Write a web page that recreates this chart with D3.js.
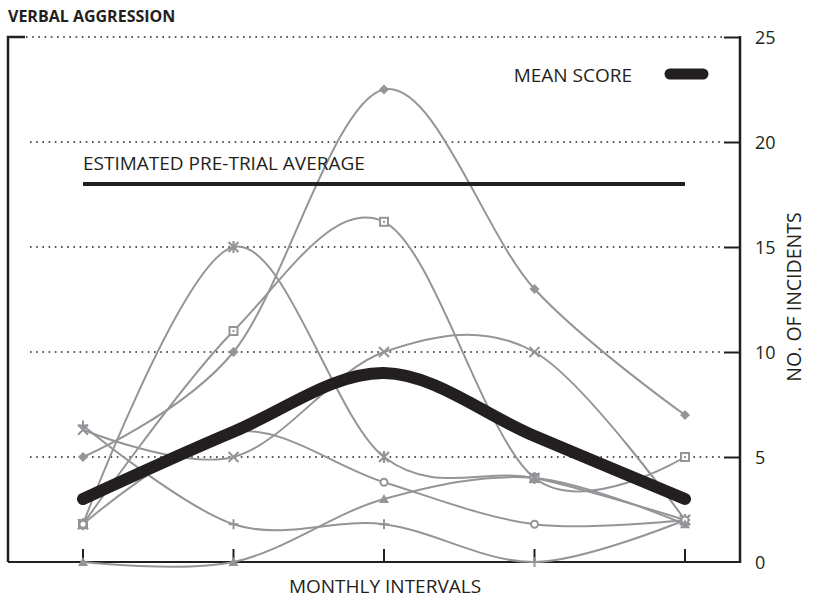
<!DOCTYPE html>
<html>
<head>
<meta charset="utf-8">
<script src="https://cdn.jsdelivr.net/npm/d3@7"></script>
<style>
  body { margin: 0; background: #fff; }
  svg text { font-family: "Open Sans", "DejaVu Sans", sans-serif; fill: #231f20; }
</style>
</head>
<body>
<svg id="chart" width="825" height="600"></svg>
<script>
// monthly intervals (unlabelled on the chart)
var months = ["M1", "M2", "M3", "M4", "M5"];

// one row per patient
var diamondSeries  = [5, 10, 22.5, 13, 7];
var squareSeries   = [1.8, 11, 16.2, 4, 5];
var asteriskSeries = [1.8, 15, 5, 4, 2];
var crossSeries    = [6.3, 5, 10, 10, 2];
var plusSeries     = [6.5, 1.8, 1.8, 0, 2];
var circleSeries   = [1.8, 6.2, 3.8, 1.8, 2];
var triangleSeries = [0, 0, 3, 4, 1.8];

var meanScore = [3, 6.2, 9, 6, 3];
var preTrialAverage = 18;
var yTicks = [0, 5, 10, 15, 20, 25];

var series = [
  { values: diamondSeries, marker: "diamond" },
  { values: squareSeries, marker: "square" },
  { values: asteriskSeries, marker: "asterisk" },
  { values: crossSeries, marker: "cross" },
  { values: plusSeries, marker: "plus" },
  { values: circleSeries, marker: "circle" },
  { values: triangleSeries, marker: "triangle" }
];

var gray = "#939598";
var ink = "#231f20";

var svg = d3.select("#chart");

var x = d3.scalePoint().domain(months).range([83, 685]);
var y = d3.scaleLinear().domain([0, 25]).range([562, 37]);

var left = 8, right = 740;

// title
svg.append("text")
  .attr("x", 8).attr("y", 22)
  .style("font-size", "16px").style("font-weight", "bold")
  .text("VERBAL AGGRESSION");

// dotted gridlines
var grid = svg.append("g");
grid.selectAll("line")
  .data(yTicks.filter(function(d) { return d > 0; }))
  .enter().append("line")
  .attr("x1", function(d) { return d === 25 ? 26 : 30; })
  .attr("x2", right - 16)
  .attr("y1", function(d) { return y(d); })
  .attr("y2", function(d) { return y(d); })
  .attr("stroke", ink)
  .attr("stroke-width", 1.6)
  .attr("stroke-dasharray", "1.6,4.6");

// right axis with solid ticks
var yAxis = d3.axisRight(y).tickValues(yTicks).tickSize(0).tickPadding(15);
var axisG = svg.append("g")
  .attr("transform", "translate(" + right + ",0)")
  .call(yAxis);
axisG.select(".domain").remove();
axisG.selectAll(".tick text")
  .style("font-size", "18px")
  .style("font-family", '"Open Sans", sans-serif')
  .attr("fill", ink)
  .attr("dy", "0.35em");
axisG.selectAll(".tick").filter(function(d) { return d > 0; })
  .append("line")
  .attr("x1", -16).attr("x2", 0)
  .attr("stroke", ink).attr("stroke-width", 2);

svg.append("line")
  .attr("x1", right).attr("x2", right)
  .attr("y1", y(25) - 1).attr("y2", y(0) + 1)
  .attr("stroke", ink).attr("stroke-width", 2.5);

// left frame
svg.append("path")
  .attr("d", "M" + (left + 17) + "," + y(25) + "H" + left + "V" + y(0))
  .attr("fill", "none").attr("stroke", ink).attr("stroke-width", 2.5);

// bottom axis
svg.append("line")
  .attr("x1", left).attr("x2", right)
  .attr("y1", y(0)).attr("y2", y(0))
  .attr("stroke", ink).attr("stroke-width", 2);
svg.append("g").selectAll("line")
  .data(months).enter().append("line")
  .attr("x1", function(d) { return x(d); })
  .attr("x2", function(d) { return x(d); })
  .attr("y1", y(0)).attr("y2", y(0) - 13)
  .attr("stroke", ink).attr("stroke-width", 2);

// axis titles
svg.append("text")
  .attr("x", 385).attr("y", 593)
  .attr("text-anchor", "middle")
  .style("font-size", "19px")
  .text("MONTHLY INTERVALS");
svg.append("text")
  .attr("transform", "translate(801,297) rotate(-90)")
  .attr("text-anchor", "middle")
  .style("font-size", "19.5px")
  .text("NO. OF INCIDENTS");

// patient lines
var line = d3.line()
  .x(function(d, i) { return x(months[i]); })
  .y(function(d) { return y(d); })
  .curve(d3.curveCardinal.tension(0));

var lines = svg.append("g");
lines.selectAll("path")
  .data(series).enter().append("path")
  .attr("d", function(s) { return line(s.values); })
  .attr("fill", "none")
  .attr("stroke", gray)
  .attr("stroke-width", 2);

function drawMarker(g, type) {
  if (type === "diamond") {
    g.append("path").attr("d", "M0,-5L5,0L0,5L-5,0Z").attr("fill", gray);
  } else if (type === "square") {
    g.append("rect").attr("x", -4).attr("y", -4).attr("width", 8).attr("height", 8)
      .attr("fill", "#fff").attr("stroke", gray).attr("stroke-width", 2);
    g.append("rect").attr("x", -1).attr("y", -1).attr("width", 2).attr("height", 2).attr("fill", gray);
  } else if (type === "asterisk") {
    g.append("path").attr("d", "M-5,-5L5,5M-5,5L5,-5M0,-6V6")
      .attr("stroke", gray).attr("stroke-width", 2.2);
  } else if (type === "cross") {
    g.append("path").attr("d", "M-5,-5L5,5M-5,5L5,-5")
      .attr("stroke", gray).attr("stroke-width", 2);
  } else if (type === "plus") {
    g.append("path").attr("d", "M-5,0H5M0,-5V5")
      .attr("stroke", gray).attr("stroke-width", 2);
  } else if (type === "circle") {
    g.append("circle").attr("r", 3.5)
      .attr("fill", "#fff").attr("stroke", gray).attr("stroke-width", 2);
  } else if (type === "triangle") {
    g.append("path").attr("d", "M0,-5L5,4H-5Z").attr("fill", gray);
  }
}

series.forEach(function(s) {
  var mg = svg.append("g");
  s.values.forEach(function(v, i) {
    var g = mg.append("g").attr("transform", "translate(" + x(months[i]) + "," + y(v) + ")");
    drawMarker(g, s.marker);
  });
});

// pre-trial average
svg.append("line")
  .attr("x1", x(months[0])).attr("x2", x(months[months.length - 1]))
  .attr("y1", y(preTrialAverage)).attr("y2", y(preTrialAverage))
  .attr("stroke", ink).attr("stroke-width", 4);
svg.append("text")
  .attr("x", x(months[0])).attr("y", y(preTrialAverage) - 14)
  .style("font-size", "19px")
  .text("ESTIMATED PRE-TRIAL AVERAGE");

// mean score
svg.append("path")
  .attr("d", line(meanScore))
  .attr("fill", "none")
  .attr("stroke", ink)
  .attr("stroke-width", 12)
  .attr("stroke-linecap", "round");

// legend
svg.append("text")
  .attr("x", 632).attr("y", 82)
  .attr("text-anchor", "end")
  .style("font-size", "19px")
  .text("MEAN SCORE");
svg.append("line")
  .attr("x1", 670).attr("x2", 703)
  .attr("y1", 74).attr("y2", 74)
  .attr("stroke", ink).attr("stroke-width", 11)
  .attr("stroke-linecap", "round");
</script>
</body>
</html>
